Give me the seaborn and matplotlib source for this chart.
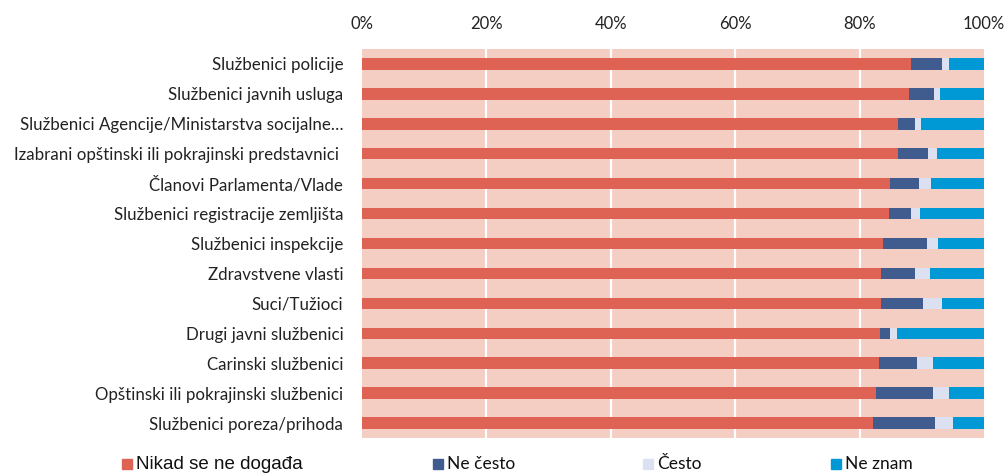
import matplotlib
matplotlib.use("Agg")
import matplotlib.pyplot as plt
import seaborn as sns
import pandas as pd
import numpy as np
from matplotlib.patches import Rectangle

categories = [
    "Službenici policije",
    "Službenici javnih usluga",
    "Službenici Agencije/Ministarstva socijalne…",
    "Izabrani opštinski ili pokrajinski predstavnici ",
    "Članovi Parlamenta/Vlade",
    "Službenici registracije zemljišta",
    "Službenici inspekcije",
    "Zdravstvene vlasti",
    "Suci/Tužioci",
    "Drugi javni službenici",
    "Carinski službenici",
    "Opštinski ili pokrajinski službenici",
    "Službenici poreza/prihoda",
]
nikad = [88.3, 88.0, 86.1, 86.2, 84.9, 84.7, 83.7, 83.5, 83.5, 83.3, 83.1, 82.6, 82.2]
ne_cesto = [5.0, 3.9, 2.8, 4.8, 4.7, 3.6, 7.1, 5.4, 6.7, 1.6, 6.1, 9.2, 9.9]
cesto = [1.0, 1.1, 0.9, 1.4, 1.9, 1.4, 1.8, 2.4, 3.0, 1.1, 2.6, 2.5, 2.9]
ne_znam = [5.7, 7.0, 10.2, 7.6, 8.5, 10.3, 7.4, 8.7, 6.8, 14.0, 8.2, 5.7, 5.0]
series_names = ["Nikad se ne događa", "Ne često", "Često", "Ne znam"]
colors = ["#DE6354", "#405B8E", "#DCE1F2", "#0099D6"]
tick_labels = ["0%", "20%", "40%", "60%", "80%", "100%"]

df = pd.DataFrame({"cat": categories, "a": nikad, "b": ne_cesto, "c": cesto, "d": ne_znam})
df["c1"] = df["a"]
df["c2"] = df["c1"] + df["b"]
df["c3"] = df["c2"] + df["c"]
df["c4"] = df["c3"] + df["d"]

sns.set_theme(style="white")
plt.rcParams["font.family"] = ["Lato", "DejaVu Sans"]

fig = plt.figure(figsize=(10.06, 4.75), dpi=100)
ax = fig.add_axes([362 / 1006, 37 / 475, (984 - 362) / 1006, (438 - 49) / 475])
ax.set_facecolor("#F4CDC3")

for col, colr in zip(["c4", "c3", "c2", "c1"], colors[::-1]):
    sns.barplot(data=df, x=col, y="cat", orient="h", color=colr, width=0.385,
                saturation=1, ax=ax, zorder=3, linewidth=0)

ax.set_xlim(0, 100)
ax.set_ylim(12.5, -0.5)
ax.set_xticks([0, 20, 40, 60, 80, 100])
ax.set_xticklabels(tick_labels)
ax.xaxis.tick_top()
ax.tick_params(axis="x", length=0, pad=12.5, labelsize=12, colors="#222222")
ax.tick_params(axis="y", length=0, pad=13.5, labelsize=12.2, colors="#222222")
for v in [20, 40, 60, 80]:
    ax.axvline(v, color="white", lw=1.6, zorder=1)
for s in ax.spines.values():
    s.set_visible(False)
ax.set_xlabel("")
ax.set_ylabel("")

# Legend
marker_x = [122, 433, 643, 831]
text_x = [136, 447, 657, 845]
fams = [["Liberation Sans", "DejaVu Sans"], ["Lato", "DejaVu Sans"],
        ["Lato", "DejaVu Sans"], ["Lato", "DejaVu Sans"]]
sizes = [13.5, 12.5, 12.5, 12.5]
base_y = 469
for i, (name, colr) in enumerate(zip(series_names, colors)):
    fig.patches.append(Rectangle((marker_x[i] / 1006, (475 - base_y) / 475), 10 / 1006, 10 / 475,
                                 transform=fig.transFigure, color=colr, figure=fig))
    fig.text(text_x[i] / 1006, (475 - base_y) / 475, name, fontsize=sizes[i],
             va="baseline", ha="left", color="#111111", family=fams[i])

fig.savefig("out.png", dpi=100)
